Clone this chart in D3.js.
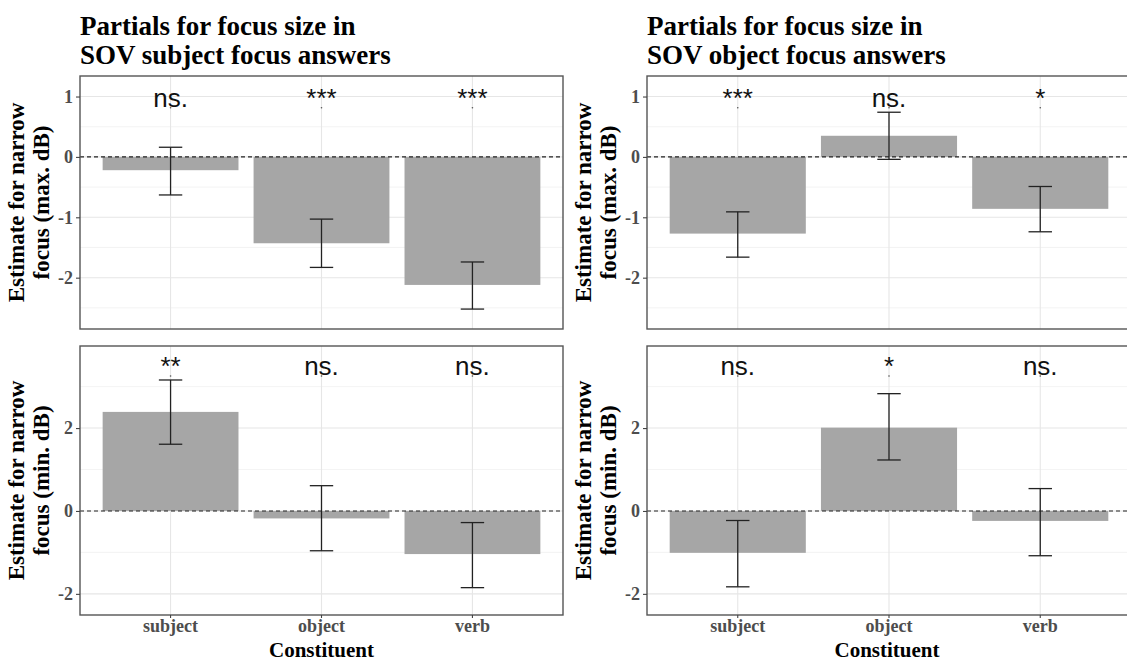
<!DOCTYPE html>
<html>
<head>
<meta charset="utf-8">
<script src="https://cdn.jsdelivr.net/npm/d3@7"></script>
<style>
  body { margin: 0; background: #fff; }
  svg { display: block; }
</style>
</head>
<body>
<svg id="chart" width="1127" height="662"></svg>
<script>
// categories
const constituents = ["subject", "object", "verb"];

// max. dB, subject focus answers
const maxSubjEst = [-0.22, -1.43, -2.12];
const maxSubjLo  = [-0.63, -1.83, -2.52];
const maxSubjHi  = [ 0.16, -1.03, -1.74];
const maxSubjSig = ["ns.", "***", "***"];

// max. dB, object focus answers
const maxObjEst = [-1.27, 0.35, -0.86];
const maxObjLo  = [-1.66, -0.04, -1.24];
const maxObjHi  = [-0.91, 0.74, -0.49];
const maxObjSig = ["***", "ns.", "*"];

// min. dB, subject focus answers
const minSubjEst = [2.39, -0.18, -1.04];
const minSubjLo  = [1.61, -0.96, -1.85];
const minSubjHi  = [3.16, 0.61, -0.28];
const minSubjSig = ["**", "ns.", "ns."];

// min. dB, object focus answers
const minObjEst = [-1.01, 2.01, -0.24];
const minObjLo  = [-1.83, 1.23, -1.08];
const minObjHi  = [-0.23, 2.83, 0.54];
const minObjSig = ["ns.", "*", "ns."];

// axis ticks
const maxTicks = [-2, -1, 0, 1];
const maxMinor = [-2.5, -1.5, -0.5, 0.5];
const minTicks = [-2, 0, 2];
const minMinor = [-1, 1, 3];

const titles = [
  ["Partials for focus size in", "SOV subject focus answers"],
  ["Partials for focus size in", "SOV object focus answers"]
];
const maxYLabel = ["Estimate for narrow", "focus (max. dB)"];
const minYLabel = ["Estimate for narrow", "focus (min. dB)"];
const xTitle = "Constituent";

const svg = d3.select("#chart");
const serif = "'Liberation Serif', 'Times New Roman', serif";
const sans = "'Liberation Sans', Arial, sans-serif";

const cols = [{x0: 80, x1: 563}, {x0: 647, x1: 1131}];
const rows = [
  {y0: 76, y1: 329, domain: [-2.85, 1.34], ticks: maxTicks, minor: maxMinor, sigY: 0.83, label: maxYLabel},
  {y0: 346, y1: 615, domain: [-2.51, 3.98], ticks: minTicks, minor: minMinor, sigY: 3.28, label: minYLabel}
];

const panels = [
  {c: 0, r: 0, est: maxSubjEst, lo: maxSubjLo, hi: maxSubjHi, sig: maxSubjSig},
  {c: 1, r: 0, est: maxObjEst, lo: maxObjLo, hi: maxObjHi, sig: maxObjSig},
  {c: 0, r: 1, est: minSubjEst, lo: minSubjLo, hi: minSubjHi, sig: minSubjSig},
  {c: 1, r: 1, est: minObjEst, lo: minObjLo, hi: minObjHi, sig: minObjSig}
];

panels.forEach(function(p) {
  var col = cols[p.c], row = rows[p.r];
  var x = d3.scaleBand()
      .domain(constituents)
      .range([col.x0, col.x1])
      .paddingInner(0.1)
      .paddingOuter(0.15);
  var y = d3.scaleLinear()
      .domain(row.domain)
      .range([row.y1, row.y0]);
  var mid = d => x(d) + x.bandwidth() / 2;

  var data = constituents.map(function(k, i) {
    return {key: k, est: p.est[i], lo: p.lo[i], hi: p.hi[i], sig: p.sig[i]};
  });

  var g = svg.append("g");

  // clip region for the panel
  var clipId = "clip" + p.c + p.r;
  svg.append("clipPath").attr("id", clipId)
    .append("rect")
    .attr("x", col.x0).attr("y", row.y0)
    .attr("width", col.x1 - col.x0).attr("height", row.y1 - row.y0);

  var inner = g.append("g").attr("clip-path", "url(#" + clipId + ")");

  // minor grid
  inner.selectAll(".minor").data(row.minor).enter().append("line")
    .attr("x1", col.x0).attr("x2", col.x1)
    .attr("y1", d => y(d)).attr("y2", d => y(d))
    .attr("stroke", "#f0f0f0").attr("stroke-width", 0.8);

  // major grid
  inner.selectAll(".major").data(row.ticks).enter().append("line")
    .attr("x1", col.x0).attr("x2", col.x1)
    .attr("y1", d => y(d)).attr("y2", d => y(d))
    .attr("stroke", "#e6e6e6").attr("stroke-width", 1.1);

  inner.selectAll(".vgrid").data(constituents).enter().append("line")
    .attr("x1", mid).attr("x2", mid)
    .attr("y1", row.y0).attr("y2", row.y1)
    .attr("stroke", "#e6e6e6").attr("stroke-width", 1.1);

  // bars
  inner.selectAll(".bar").data(data).enter().append("rect")
    .attr("x", d => x(d.key))
    .attr("width", x.bandwidth())
    .attr("y", d => y(Math.max(0, d.est)))
    .attr("height", d => Math.abs(y(d.est) - y(0)))
    .attr("fill", "#a6a6a6");

  // zero line
  inner.append("line")
    .attr("x1", col.x0).attr("x2", col.x1)
    .attr("y1", y(0)).attr("y2", y(0))
    .attr("stroke", "#222").attr("stroke-width", 1.1)
    .attr("stroke-dasharray", "4,3");

  // error bars
  var capW = x.step() * 0.155;
  var eb = inner.selectAll(".eb").data(data).enter().append("g")
    .attr("stroke", "#222").attr("stroke-width", 1.3);
  eb.append("line")
    .attr("x1", d => mid(d.key)).attr("x2", d => mid(d.key))
    .attr("y1", d => y(d.lo)).attr("y2", d => y(d.hi));
  eb.append("line")
    .attr("x1", d => mid(d.key) - capW / 2).attr("x2", d => mid(d.key) + capW / 2)
    .attr("y1", d => y(d.lo)).attr("y2", d => y(d.lo));
  eb.append("line")
    .attr("x1", d => mid(d.key) - capW / 2).attr("x2", d => mid(d.key) + capW / 2)
    .attr("y1", d => y(d.hi)).attr("y2", d => y(d.hi));

  // significance labels with their anchor points
  inner.selectAll(".sigpt").data(data).enter().append("circle")
    .attr("cx", d => mid(d.key))
    .attr("cy", y(row.sigY) + 1)
    .attr("r", 0.8)
    .attr("fill", "#555");
  inner.selectAll(".sig").data(data).enter().append("text")
    .attr("x", d => mid(d.key))
    .attr("y", y(row.sigY))
    .attr("text-anchor", "middle")
    .attr("font-family", sans)
    .attr("font-size", 26)
    .attr("fill", "#111")
    .text(d => d.sig);

  // panel border
  g.append("rect")
    .attr("x", col.x0).attr("y", row.y0)
    .attr("width", col.x1 - col.x0).attr("height", row.y1 - row.y0)
    .attr("fill", "none").attr("stroke", "#555").attr("stroke-width", 1.4);

  // y axis
  var ya = g.append("g")
    .attr("transform", "translate(" + col.x0 + ",0)")
    .call(d3.axisLeft(y).tickValues(row.ticks).tickSize(4).tickPadding(3).tickFormat(d3.format("d")));
  ya.select(".domain").remove();
  ya.selectAll(".tick line").attr("stroke", "#444").attr("stroke-width", 1.1);
  ya.selectAll(".tick text")
    .attr("font-family", serif).attr("font-weight", "bold")
    .attr("font-size", 18).attr("fill", "#4d4d4d")
    .text(d => d < 0 ? "-" + Math.abs(d) : d);

  // y axis title
  var cy = (row.y0 + row.y1) / 2;
  var yt = g.append("text")
    .attr("transform", "translate(" + (col.x0 - 53) + "," + cy + ") rotate(-90)")
    .attr("text-anchor", "middle")
    .attr("font-family", serif).attr("font-weight", "bold")
    .attr("font-size", 23).attr("fill", "#000");
  yt.append("tspan").attr("x", 0).attr("dy", "-0.15em").text(row.label[0]);
  yt.append("tspan").attr("x", 0).attr("dy", "1.1em").text(row.label[1]);

  // x axis on bottom row
  if (p.r === 1) {
    var xa = g.append("g")
      .attr("transform", "translate(0," + row.y1 + ")")
      .call(d3.axisBottom(x).tickSize(3).tickPadding(1));
    xa.select(".domain").remove();
    xa.selectAll(".tick line").attr("stroke", "#444").attr("stroke-width", 1.1);
    xa.selectAll(".tick text")
      .attr("font-family", serif).attr("font-weight", "bold")
      .attr("font-size", 18).attr("fill", "#4d4d4d");
    g.append("text")
      .attr("x", (col.x0 + col.x1) / 2 - (p.c === 1 ? 2 : 0))
      .attr("y", 657)
      .attr("text-anchor", "middle")
      .attr("font-family", serif).attr("font-weight", "bold")
      .attr("font-size", 21).attr("fill", "#000")
      .text(xTitle);
  }

  // title on top row
  if (p.r === 0) {
    var t = g.append("text")
      .attr("x", col.x0)
      .attr("font-family", serif).attr("font-weight", "bold")
      .attr("font-size", 27).attr("fill", "#000");
    t.append("tspan").attr("x", col.x0).attr("y", 35).text(titles[p.c][0]);
    t.append("tspan").attr("x", col.x0).attr("y", 64).text(titles[p.c][1]);
  }
});
</script>
</body>
</html>
